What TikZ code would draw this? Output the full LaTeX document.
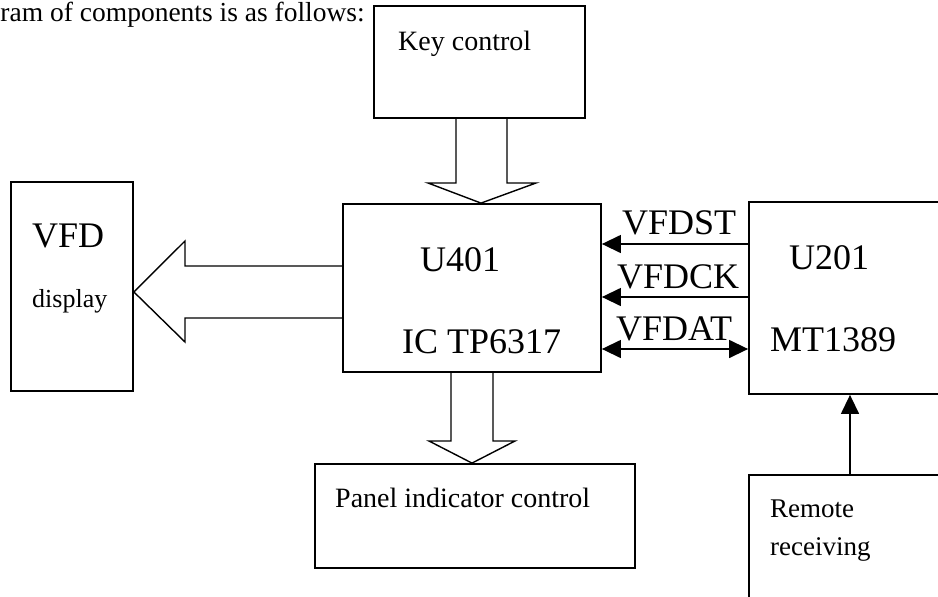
\documentclass[tikz,border=0pt]{standalone}
\usepackage{fontspec}
\setmainfont{Liberation Serif}
\usetikzlibrary{arrows.meta,calc}
\tikzset{
  box/.style={draw, line width=1.8pt, inner sep=0pt, fill=none},
  blk/.style={draw, line width=1.4pt, line join=miter},
  sig/.style={draw, line width=1.4pt, -{Triangle[length=19pt,width=18pt]}},
  bisig/.style={draw, line width=1.4pt, {Triangle[length=19pt,width=18pt]}-{Triangle[length=19pt,width=18pt]}},
  txt/.style={inner sep=0pt, anchor=base west},
}
\newcommand{\fs}[1]{\fontsize{#1}{#1}\selectfont}
\begin{document}
\begin{tikzpicture}[x=1pt,y=-1pt]
\useasboundingbox (0,0) rectangle (938,597);
\clip (0,0) rectangle (938,597);
\fill[white] (0,0) rectangle (938,597);

% heading line of the page
\node[inner sep=0pt, anchor=base east] (head) at (365,21) {\fs{27.5}ram of components is as follows:};

% blocks
\node[box, minimum width=211pt, minimum height=112pt] (key)   at (479.5,62)  {};
\node[box, minimum width=258pt, minimum height=168pt] (u401)  at (472,288)   {};
\node[box, minimum width=122pt, minimum height=209pt] (vfd)   at (72,286.5)  {};
\node[box, minimum width=320pt, minimum height=104pt] (panel) at (475,516)   {};
\node[box, minimum width=251pt, minimum height=192pt] (u201)  at (874.5,298) {};
\node[box, minimum width=251pt, minimum height=225pt] (remote) at (874.5,587.5) {};

% block texts
\node[txt] (tkey)  at (398,50)  {\fs{28}Key control};
\node[txt] (tvfd)  at (32,247)  {\fs{36}VFD};
\node[txt] (tdisp) at (32,307)  {\fs{26}display};
\node[txt] (tu401) at (420,271) {\fs{36}U401};
\node[txt] (tic)   at (402,353) {\fs{36}IC TP6317};
\node[txt] (tu201) at (789,269) {\fs{36}U201};
\node[txt] (tmt)   at (770,351) {\fs{36}MT1389};
\node[txt] (tpan)  at (335,507) {\fs{28}Panel indicator control};
\node[txt] (trem)  at (770,517) {\fs{27}Remote};
\node[txt] (trcv)  at (770,555) {\fs{27}receiving};

% hollow bus arrows
\draw[blk] (key.south -| 456,0) -- (456,183) -- (428,183) -- (u401.north -| 481,0)
           -- (536,183) -- (507,183) -- (key.south -| 507,0);
\draw[blk] (u401.west |- 0,266) -- (185,266) -- (185,241) -- (vfd.east |- 0,292)
           -- (185,342) -- (185,318) -- (u401.west |- 0,318);
\draw[blk] (u401.south -| 451,0) -- (451,441) -- (429,441) -- (panel.north -| 472,0)
           -- (515,441) -- (493,441) -- (u401.south -| 493,0);

% serial lines between the controllers
\coordinate (yst) at (0,244);
\coordinate (yck) at (0,297);
\coordinate (ydt) at (0,349);
\coordinate (xrm) at (850,0);
\draw[sig] (u201.west |- yst) -- (u401.east |- yst);
\draw[sig] (u201.west |- yck) -- (u401.east |- yck);
\draw[bisig] (u401.east |- ydt) -- (u201.west |- ydt);
\draw[sig] (remote.north -| xrm) -- (u201.south -| xrm);

\node[txt] (lst) at (622,234) {\fs{36}VFDST};
\node[txt] (lck) at (617,288) {\fs{36}VFDCK};
\node[txt] (ldt) at (616,340) {\fs{36}VFDAT};
\end{tikzpicture}
\end{document}
